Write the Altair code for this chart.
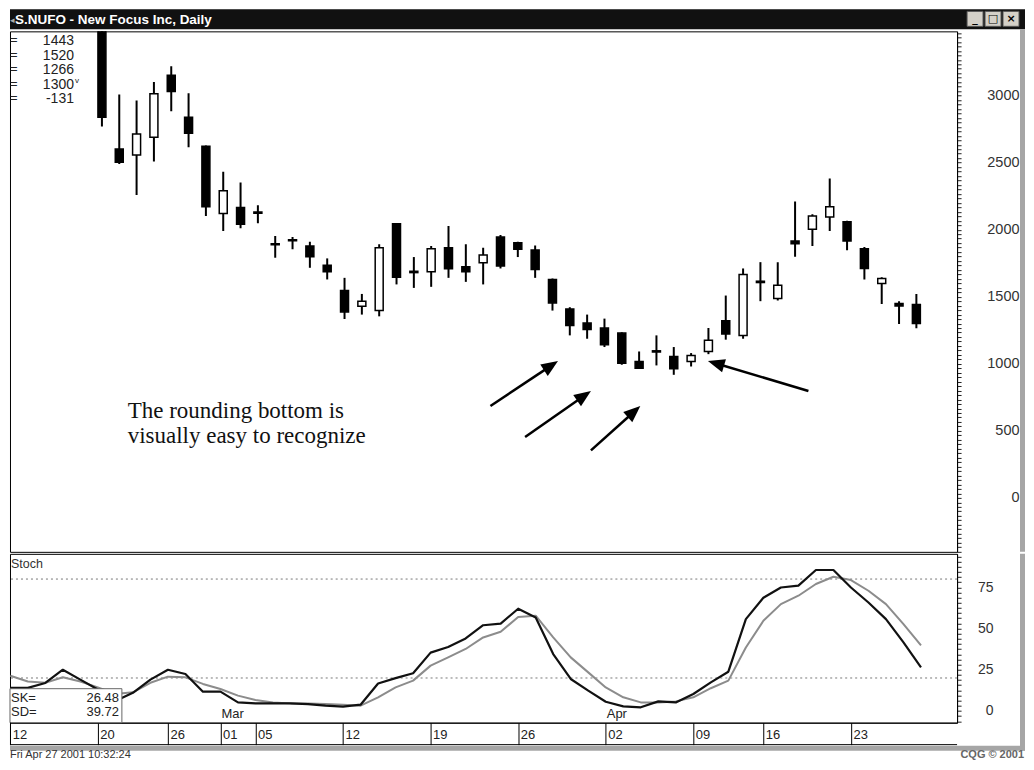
import json
import math
import altair as alt
import pandas as pd

# ---------------- data ----------------
trade_days = ["02-12", "02-13", "02-14", "02-15", "02-16", "02-20", "02-21", "02-22", "02-23",
              "02-26", "02-27", "02-28", "03-01", "03-02", "03-05", "03-06", "03-07", "03-08",
              "03-09", "03-12", "03-13", "03-14", "03-15", "03-16", "03-19", "03-20", "03-21",
              "03-22", "03-23", "03-26", "03-27", "03-28", "03-29", "03-30", "04-02", "04-03",
              "04-04", "04-05", "04-06", "04-09", "04-10", "04-11", "04-12", "04-16", "04-17",
              "04-18", "04-19", "04-20", "04-23", "04-24", "04-25", "04-26", "04-27"]
candle_days = trade_days[5:]
opens = [3500, 2602, 2557, 2689, 3151, 2839, 2622, 2120, 2165, 2132, 1895, 1925, 1878, 1734,
         1547, 1429, 1397, 2045, 1690, 1686, 1866, 1723, 1753, 1946, 1903, 1848, 1629, 1409,
         1304, 1267, 1229, 1018, 1097, 1055, 1018, 1092, 1322, 1212, 1616, 1487, 1916, 2003,
         2095, 2060, 1858, 1599, 1450, 1443]
highs = [3500, 3008, 2964, 3101, 3218, 3018, 2627, 2432, 2352, 2183, 1953, 1946, 1911, 1786,
         1641, 1521, 1891, 2050, 1796, 1878, 2028, 1891, 1866, 1960, 1911, 1883, 1636, 1422,
         1367, 1337, 1235, 1092, 1212, 1125, 1080, 1267, 1509, 1711, 1758, 1758, 2210, 2115,
         2382, 2067, 1871, 1646, 1467, 1520]
lows = [2769, 2490, 2258, 2509, 2884, 2614, 2103, 1991, 2011, 2048, 1791, 1854, 1716, 1629,
        1334, 1367, 1354, 1592, 1566, 1574, 1641, 1611, 1592, 1711, 1796, 1641, 1397, 1212,
        1187, 1125, 993, 967, 988, 918, 980, 1072, 1180, 1187, 1467, 1472, 1798, 1878,
        1991, 1846, 1629, 1446, 1297, 1266]
closes = [2839, 2502, 2714, 3014, 3031, 2719, 2172, 2290, 2041, 2122, 1888, 1918, 1798, 1686,
          1387, 1467, 1866, 1646, 1680, 1858, 1708, 1686, 1811, 1729, 1854, 1704, 1454, 1285,
          1255, 1142, 1005, 967, 1088, 963, 1062, 1175, 1222, 1666, 1606, 1586, 1896, 2103,
          2172, 1916, 1711, 1636, 1431, 1300]

stoch_k = [14, 14, 17, 25, 19, 13, 6, 11, 19, 25,
           22.4, 11.7, 11.7, 5.2, 4.6, 4.6, 4.6, 4.2, 3.2, 2.6,
           3.8, 16.7, 19.9, 22.9, 35.4, 38.8, 44, 52, 53, 62,
           56.7, 34.5, 19.4, 12.3, 5.6, 2.8, 2.2, 5.8, 5.2, 10.3,
           17.3, 23.8, 55.7, 68.7, 74.9, 76, 85.5, 85.5, 74.9, 65.8,
           55.7, 41.6, 26.48]
stoch_d = [21.4, 17.9, 17.1, 20.4, 17.9, 14.3, 10.3, 11.3, 17.1, 20.8,
           20.4, 16.4, 13.3, 9.3, 6.6, 5.2, 4.6, 4.6, 4.2, 3.8,
           3.2, 8.3, 14.3, 18.4, 27.5, 32.5, 37.6, 44.6, 48, 57,
           57.8, 44.6, 32.5, 23.4, 14.3, 8.3, 5.2, 5.2, 5.8, 8.3,
           13.8, 18.4, 38.5, 54.7, 64.8, 69.9, 77, 81.4, 79.4, 72.9,
           64.8, 52.7, 39.72]
stoch_levels = [80, 20]

tick_days = ["02-12", "02-20", "02-26", "03-01", "03-05", "03-12", "03-19", "03-26",
             "04-02", "04-09", "04-16", "04-23"]
month_names = ["Mar", "Apr"]
month_days = ["03-01", "04-02"]

arrow_tail_i = [27.42, 29.42, 33.22, 45.77]
arrow_tail_p = [685, 454, 355, 797]
arrow_tip_i = [31.32, 33.22, 36.07, 39.97]
arrow_tip_p = [1021, 797, 685, 1021]

note_lines = ["The rounding bottom is", "visually easy to recognize"]
note_i = [6.49, 6.49]
note_p = [596, 410]

title_text = "S.NUFO - New Focus Inc, Daily"
timestamp = "Fri Apr 27 2001 10:32:24"
credit = "CQG \u00a9 2001"

# ---------------- layout ----------------
W, H1, H2 = 948, 521, 169
X_DOM = [-0.017, 54.06]
P_DOM = [-402, 3479]
S_DOM = [-7.1, 95.3]
FONT = "Liberation Sans"

xs = alt.Scale(domain=X_DOM, nice=False, zero=False)
ps = alt.Scale(domain=P_DOM, nice=False, zero=False)
ss = alt.Scale(domain=S_DOM, nice=False, zero=False)
one = pd.DataFrame({"k": [0]})

cdf = pd.DataFrame({
    "i": [trade_days.index(d) for d in candle_days],
    "open": opens, "high": highs, "low": lows, "close": closes,
})

p_ticks = [k * 100 / 3 for k in range(-12, 105)]
price_axis = alt.Axis(
    orient="right", values=p_ticks,
    labelExpr="abs(datum.value % 500) < 0.01 ? format(datum.value, 'd') : ''",
    tickSize=4, tickColor="#222", domainColor="#000", labelAlign="right",
    labelBaseline="middle", labelPadding=58, labelFont=FONT, labelFontSize=14.5,
    labelColor="#333", grid=False, title=None, labelOverlap=False, labelFlush=False,
)

X_none = dict(scale=xs, axis=None)

wicks = alt.Chart(cdf).mark_rule(color="#000", strokeWidth=2, clip=True).encode(
    x=alt.X("i:Q", **X_none),
    y=alt.Y("low:Q", scale=ps, axis=price_axis),
    y2="high:Q",
)
bodies = alt.Chart(cdf).mark_bar(size=8, stroke="#000", strokeWidth=1.5, clip=True).encode(
    x=alt.X("i:Q", **X_none),
    y=alt.Y("open:Q", scale=ps, axis=price_axis),
    y2="close:Q",
    fill=alt.condition("datum.close >= datum.open", alt.value("white"), alt.value("black")),
)

# arrows (direction computed in pixel space from the data)
kx = W / (X_DOM[1] - X_DOM[0])
ky = H1 / (P_DOM[1] - P_DOM[0])
rows = []
for ti, tp, hi, hp in zip(arrow_tail_i, arrow_tail_p, arrow_tip_i, arrow_tip_p):
    dxp = (hi - ti) * kx
    dyp = -(hp - tp) * ky
    L = math.hypot(dxp, dyp)
    ux, uy = dxp / L, dyp / L
    ang = math.degrees(math.atan2(dxp, -dyp)) % 360
    rows.append({"ti": ti, "tp": tp, "ei": hi - 7 * ux / kx, "ep": hp + 7 * uy / ky,
                 "hi": hi, "hp": hp, "ang": ang})
adf = pd.DataFrame(rows)
HEAD = "M0,0L0.85,2.1L-0.85,2.1Z"
shafts = alt.Chart(adf).mark_rule(color="#000", strokeWidth=2.5).encode(
    x=alt.X("ti:Q", **X_none), x2="ei:Q",
    y=alt.Y("tp:Q", scale=ps, axis=price_axis), y2="ep:Q",
)
heads = alt.Chart(adf).mark_point(shape=HEAD, size=256, filled=True, color="#000",
                                  opacity=1, strokeWidth=0).encode(
    x=alt.X("hi:Q", **X_none),
    y=alt.Y("hp:Q", scale=ps, axis=price_axis),
    angle=alt.Angle("ang:Q", scale=None),
)

ndf = pd.DataFrame({"i": note_i, "p": note_p, "t": note_lines})
note = alt.Chart(ndf).mark_text(align="left", baseline="alphabetic", font="Liberation Serif",
                                fontSize=23, color="#111").encode(
    x=alt.X("i:Q", **X_none),
    y=alt.Y("p:Q", scale=ps, axis=price_axis),
    text="t:N",
)

# window chrome / info panel
title_bar = alt.Chart(one).mark_rect(color="#111").encode(
    x=alt.value(0), x2=alt.value(1016), y=alt.value(-22), y2=alt.value(-2))
title_icon = alt.Chart(one).mark_text(align="left", baseline="alphabetic", fontSize=9,
                                      color="#aaa", font="DejaVu Sans").encode(
    x=alt.value(0), y=alt.value(-8), text=alt.value("\u25c2"))
title_lbl = alt.Chart(one).mark_text(align="left", baseline="alphabetic", fontSize=13.5,
                                     fontWeight="bold", color="#fff", font=FONT).encode(
    x=alt.value(5), y=alt.value(-7), text=alt.value(title_text))
chrome = [title_bar, title_icon, title_lbl]
for bx, glyph in zip([958, 976, 994], ["_", "\u25a1", "\u00d7"]):
    chrome.append(alt.Chart(one).mark_rect(fill="#d4d0c8", stroke="#555", strokeWidth=1).encode(
        x=alt.value(bx), x2=alt.value(bx + 16), y=alt.value(-20), y2=alt.value(-5)))
    chrome.append(alt.Chart(one).mark_text(align="center", baseline="middle", fontSize=11,
                                           fontWeight="bold", color="#000", font="DejaVu Sans").encode(
        x=alt.value(bx + 8), y=alt.value(-12.5), text=alt.value(glyph)))

last_o, last_h, last_l, last_c = opens[-1], highs[-1], lows[-1], closes[-1]
change = closes[-1] - closes[-2]
info_vals = "\n".join(str(v) for v in [last_o, last_h, last_l, last_c, change])
info_eq = alt.Chart(one).mark_text(align="left", baseline="top", fontSize=13, lineBreak="\n",
                                   lineHeight=14.5, color="#222", font=FONT).encode(
    x=alt.value(0), y=alt.value(3), text=alt.value("=\n=\n=\n=\n="))
info_num = alt.Chart(one).mark_text(align="right", baseline="top", fontSize=14, lineBreak="\n",
                                    lineHeight=14.5, color="#222", font=FONT).encode(
    x=alt.value(64), y=alt.value(3), text=alt.value(info_vals))
info_v = alt.Chart(one).mark_text(align="left", baseline="top", fontSize=8, color="#222",
                                  font=FONT).encode(
    x=alt.value(65), y=alt.value(46), text=alt.value("v"))
right_border_u = alt.Chart(one).mark_rect(color="#a6a6a6").encode(
    x=alt.value(1011), x2=alt.value(1016), y=alt.value(-2), y2=alt.value(H1))

upper = alt.layer(
    *chrome, info_eq, info_num, info_v, wicks, bodies, shafts, heads, note, right_border_u
).properties(width=W, height=H1)

# ---------------- lower stochastic panel ----------------
tick_idx = [trade_days.index(d) for d in tick_days]
lab_arr = [""] * len(trade_days)
for d in tick_days:
    lab_arr[trade_days.index(d)] = d[-2:]
date_axis = alt.Axis(
    values=tick_idx, labelExpr=json.dumps(lab_arr) + "[datum.value]",
    tickSize=22, tickColor="#000", tickWidth=1, domainColor="#000",
    labelAlign="left", labelBaseline="top", labelPadding=-16, labelOffset=2,
    labelFont=FONT, labelFontSize=13, labelColor="#222", grid=False, title=None,
    labelFlush=False, labelOverlap=False,
)
s_ticks = [k * 3.125 for k in range(-2, 31)]
stoch_axis = alt.Axis(
    orient="right", values=s_ticks,
    labelExpr="abs(datum.value % 25) < 0.01 ? format(datum.value, 'd') : ''",
    tickSize=4, tickColor="#222", domainColor="#000", labelAlign="right",
    labelBaseline="middle", labelPadding=32, labelFont=FONT, labelFontSize=14,
    labelColor="#333", grid=False, title=None, labelOverlap=False, labelFlush=False,
)
X_date = dict(scale=xs, axis=date_axis)

sdf = pd.DataFrame({"i": list(range(len(trade_days))), "k": stoch_k, "d": stoch_d})
ldf = pd.DataFrame({"lvl": stoch_levels})
levels = alt.Chart(ldf).mark_rule(color="#777", strokeWidth=1, strokeDash=[2, 3]).encode(
    y=alt.Y("lvl:Q", scale=ss, axis=stoch_axis))
dline = alt.Chart(sdf).mark_line(color="#8c8c8c", strokeWidth=2, strokeJoin="round").encode(
    x=alt.X("i:Q", **X_date), y=alt.Y("d:Q", scale=ss, axis=stoch_axis))
kline = alt.Chart(sdf).mark_line(color="#111", strokeWidth=2.2, strokeJoin="round").encode(
    x=alt.X("i:Q", **X_date), y=alt.Y("k:Q", scale=ss, axis=stoch_axis))

mdf = pd.DataFrame({"i": [trade_days.index(d) for d in month_days], "t": month_names})
months = alt.Chart(mdf).mark_text(align="left", baseline="top", dx=1, fontSize=13,
                                  color="#222", font=FONT).encode(
    x=alt.X("i:Q", **X_date), y=alt.value(154), text="t:N")

stoch_lbl = alt.Chart(one).mark_text(align="left", baseline="top", fontSize=12.5, color="#333",
                                     font=FONT).encode(
    x=alt.value(1), y=alt.value(4), text=alt.value("Stoch"))
sk_box = alt.Chart(one).mark_rect(fill="#fff", stroke="#666", strokeWidth=1).encode(
    x=alt.value(0), x2=alt.value(112), y=alt.value(135), y2=alt.value(H2))
sk_lbl = alt.Chart(one).mark_text(align="left", baseline="top", fontSize=13, lineBreak="\n",
                                  lineHeight=14, color="#222", font=FONT).encode(
    x=alt.value(1), y=alt.value(138), text=alt.value("SK=\nSD="))
sk_val = alt.Chart(one).mark_text(align="right", baseline="top", fontSize=13, lineBreak="\n",
                                  lineHeight=14, color="#222", font=FONT).encode(
    x=alt.value(109), y=alt.value(138),
    text=alt.value(f"{stoch_k[-1]:.2f}\n{stoch_d[-1]:.2f}"))

row_bottom = alt.Chart(one).mark_rule(color="#000", strokeWidth=1).encode(
    x=alt.value(0), x2=alt.value(W), y=alt.value(H2 + 22))
row_left = alt.Chart(one).mark_rule(color="#000", strokeWidth=1).encode(
    x=alt.value(0.5), y=alt.value(H2), y2=alt.value(H2 + 22))
gray_band = alt.Chart(one).mark_rect(color="#a6a6a6").encode(
    x=alt.value(0), x2=alt.value(1016), y=alt.value(H2 + 23), y2=alt.value(H2 + 28))
right_border_l = alt.Chart(one).mark_rect(color="#a6a6a6").encode(
    x=alt.value(1011), x2=alt.value(1016), y=alt.value(0), y2=alt.value(H2 + 28))
stamp = alt.Chart(one).mark_text(align="left", baseline="alphabetic", fontSize=11,
                                 color="#333", font=FONT).encode(
    x=alt.value(0), y=alt.value(H2 + 35), text=alt.value(timestamp))
cqg = alt.Chart(one).mark_text(align="right", baseline="alphabetic", fontSize=11,
                               fontWeight="bold", color="#666", font=FONT).encode(
    x=alt.value(1015), y=alt.value(H2 + 35), text=alt.value(credit))

lower = alt.layer(
    levels, dline, kline, months, stoch_lbl, sk_box, sk_lbl, sk_val,
    row_bottom, row_left, gray_band, right_border_l, stamp, cqg
).properties(width=W, height=H2)

chart = alt.vconcat(upper, lower, spacing=2, padding=0, bounds="flush").configure(
    font=FONT, background="white",
    view=alt.ViewConfig(stroke="#000", strokeWidth=1),
)
chart.save("out.html", embed_options={"renderer": "svg", "actions": False})
